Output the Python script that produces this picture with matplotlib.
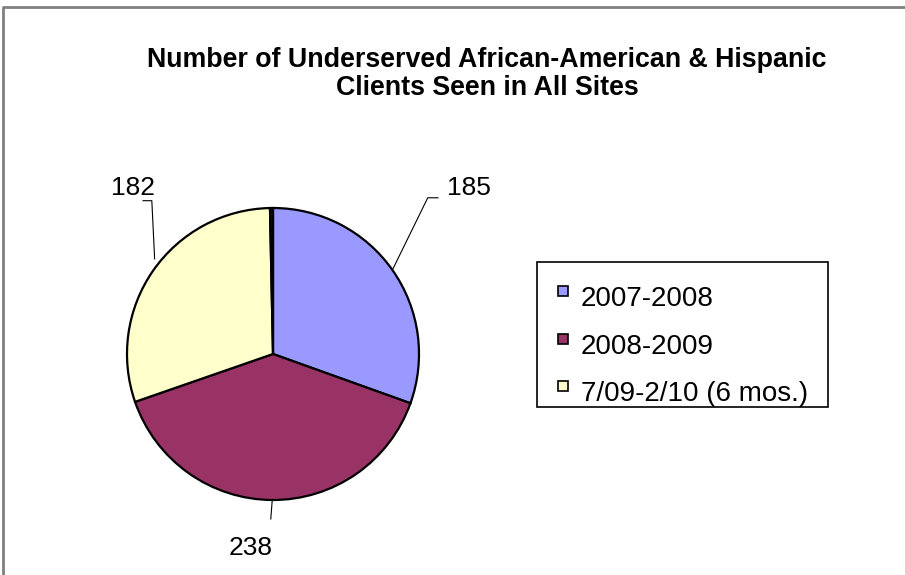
import numpy as np
import matplotlib.pyplot as plt
from matplotlib.lines import Line2D
from matplotlib.patches import Rectangle

# data
labels = ['2007-2008', '2008-2009', '7/09-2/10 (6 mos.)']
values = [185, 238, 182]
colors = ['#9999FF', '#993366', '#FFFFCC']
sliver = 2   # thin dark slice at 12 o'clock

plt.rcParams['font.family'] = ['Liberation Sans', 'DejaVu Sans']

W, H = 905, 575
fig = plt.figure(figsize=(W / 100, H / 100), dpi=100)

def fx(px):
    return px / W

def fy(py):
    return 1 - py / H

# chart area border (only top and left visible)
fig.add_artist(Line2D([fx(3), fx(3), 1], [0, fy(7), fy(7)], color='#808080', lw=2))

fig.text(fx(487), fy(74),
         'Number of Underserved African-American & Hispanic\nClients Seen in All Sites',
         ha='center', va='center', fontsize=19.3, fontweight='bold', linespacing=1.08)

# pie
cx, cy, r = 273, 354, 146
ax = fig.add_axes([fx(cx - r), fy(cy + r), 2 * r / W, 2 * r / H])
wedges, _ = ax.pie(values + [sliver], colors=colors + ['#111111'],
                   startangle=90, counterclock=False, radius=1,
                   wedgeprops=dict(edgecolor='black', linewidth=1.6))
ax.set_xlim(-1, 1)
ax.set_ylim(-1, 1)
ax.axis('off')

# data labels with leader lines (label pos in pie units)
label_pos = [(1.34, 1.14), (-0.15, -1.33), (-0.96, 1.14)]
for w, v, (tx, ty) in zip(wedges[:3], values, label_pos):
    mid = np.deg2rad((w.theta1 + w.theta2) / 2)
    ex, ey = np.cos(mid), np.sin(mid)
    if abs(ty) > 1.3:
        ax.plot([ex, ex - 0.01], [ey, ey - 0.13], color='black', lw=0.8, clip_on=False)
    elif tx > 0:
        ax.plot([ex, tx - 0.28, tx - 0.21], [ey, ty - 0.07, ty - 0.07],
                color='black', lw=0.8, clip_on=False)
    else:
        ax.plot([ex + 0.01, tx + 0.13, tx + 0.07], [ey + 0.08, ty - 0.09, ty - 0.09],
                color='black', lw=0.8, clip_on=False)
    ax.text(tx, ty, str(v), ha='center', va='center', fontsize=19)

# legend box drawn by hand
fig.add_artist(Rectangle((fx(537), fy(407)), fx(828) - fx(537), fy(262) - fy(407),
                         transform=fig.transFigure, facecolor='white',
                         edgecolor='black', lw=1.2))
for i, (lab, col) in enumerate(zip(labels, colors)):
    ty = 298 + i * 47.5
    fig.add_artist(Rectangle((fx(558), fy(ty - 2)), 10 / W, 10 / H,
                             transform=fig.transFigure, facecolor=col,
                             edgecolor='black', lw=1.2))
    fig.text(fx(581), fy(ty + 1), lab, ha='left', va='center', fontsize=20)

fig.savefig('out.png', dpi=100)
